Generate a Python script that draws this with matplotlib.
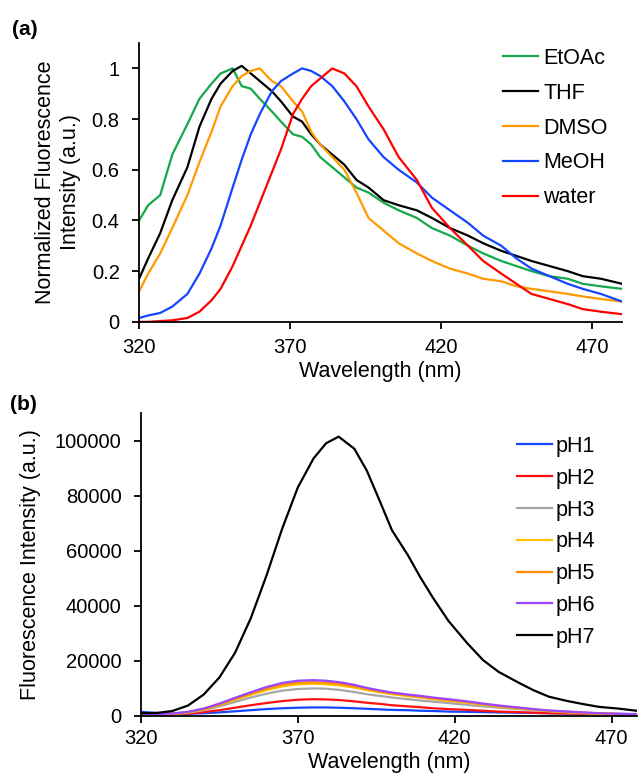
import matplotlib
matplotlib.use('Agg')
import matplotlib.pyplot as plt

plt.rcParams['font.family'] = ['Liberation Sans', 'DejaVu Sans']

# (a) normalized spectra in different solvents
wl_a = [320, 323, 327, 331, 336, 340, 344, 347, 351, 354, 357, 360, 364, 367, 371, 374,
        377, 380, 384, 388, 392, 396, 401, 406, 412, 417, 423, 429, 434, 440, 445, 450,
        456, 462, 467, 473, 480]
etoac = [0.40, 0.46, 0.50, 0.66, 0.78, 0.88, 0.94, 0.98, 1.00, 0.93, 0.92, 0.88, 0.83, 0.79,
         0.74, 0.73, 0.70, 0.65, 0.61, 0.57, 0.53, 0.51, 0.47, 0.44, 0.41, 0.37, 0.34, 0.30,
         0.27, 0.24, 0.22, 0.20, 0.18, 0.17, 0.15, 0.14, 0.13]
thf = [0.17, 0.25, 0.35, 0.48, 0.61, 0.77, 0.88, 0.94, 0.99, 1.01, 0.98, 0.95, 0.91, 0.87,
       0.81, 0.79, 0.74, 0.70, 0.66, 0.62, 0.56, 0.53, 0.48, 0.46, 0.44, 0.41, 0.37, 0.34,
       0.31, 0.28, 0.26, 0.24, 0.22, 0.20, 0.18, 0.17, 0.15]
dmso = [0.12, 0.19, 0.27, 0.37, 0.50, 0.63, 0.75, 0.85, 0.93, 0.97, 0.99, 1.00, 0.95, 0.93,
        0.87, 0.83, 0.75, 0.70, 0.65, 0.60, 0.51, 0.41, 0.36, 0.31, 0.27, 0.24, 0.21, 0.19,
        0.17, 0.16, 0.14, 0.13, 0.12, 0.11, 0.10, 0.09, 0.08]
meoh = [0.015, 0.025, 0.035, 0.06, 0.11, 0.19, 0.29, 0.38, 0.53, 0.64, 0.74, 0.82, 0.91, 0.95,
        0.98, 1.00, 0.99, 0.97, 0.93, 0.87, 0.80, 0.72, 0.65, 0.60, 0.55, 0.49, 0.44, 0.39,
        0.34, 0.30, 0.25, 0.21, 0.18, 0.15, 0.13, 0.11, 0.08]
water = [0.0, 0.0, 0.003, 0.006, 0.015, 0.04, 0.085, 0.13, 0.22, 0.30, 0.38, 0.47, 0.59, 0.68,
         0.82, 0.88, 0.93, 0.96, 1.00, 0.98, 0.93, 0.85, 0.76, 0.65, 0.56, 0.45, 0.37, 0.30,
         0.24, 0.19, 0.15, 0.11, 0.09, 0.07, 0.05, 0.04, 0.03]
solvents = ['EtOAc', 'THF', 'DMSO', 'MeOH', 'water']
solvent_colors = ['#13a84a', 'black', '#ff9a00', '#1446ff', '#ff0000']

# (b) spectra at different pH
wl_b = [320, 325, 330, 335, 340, 345, 350, 355, 360, 365, 370, 375, 379, 383, 388, 392, 396,
        400, 405, 409, 413, 418, 424, 429, 434, 440, 445, 450, 456, 461, 466, 472, 478]
ph1 = [1500, 1100, 800, 800, 1000, 1300, 1700, 2100, 2500, 2800, 3000, 3100, 3100, 3000, 2800,
       2600, 2400, 2200, 2100, 1900, 1800, 1600, 1500, 1400, 1300, 1200, 1100, 1000, 900, 850,
       800, 750, 700]
ph2 = [900, 700, 700, 900, 1400, 2100, 3000, 3900, 4700, 5400, 5900, 6100, 6000, 5800, 5300,
       4800, 4400, 3900, 3500, 3200, 2800, 2500, 2200, 1900, 1600, 1400, 1200, 1000, 900, 800,
       700, 600, 500]
ph3 = [800, 700, 750, 1200, 2100, 3500, 5100, 6700, 8100, 9200, 9800, 10000, 9900, 9500, 8700,
       7900, 7300, 6700, 6100, 5600, 5200, 4700, 4000, 3500, 3000, 2500, 2100, 1700, 1300, 1000,
       800, 650, 500]
ph4 = [800, 700, 800, 1300, 2400, 4000, 5900, 7700, 9400, 10700, 11500, 11700, 11500, 11100,
       10300, 9400, 8600, 7900, 7200, 6700, 6100, 5500, 4800, 4100, 3400, 2800, 2300, 1800, 1400,
       1100, 900, 700, 500]
ph5 = [800, 700, 850, 1400, 2500, 4200, 6200, 8100, 9900, 11300, 12100, 12300, 12100, 11700,
       10800, 9800, 8900, 8200, 7500, 7000, 6400, 5800, 5000, 4300, 3600, 3000, 2400, 1900, 1500,
       1200, 950, 750, 550]
ph6 = [800, 700, 900, 1500, 2700, 4500, 6600, 8600, 10500, 12000, 12800, 13000, 12800, 12300,
       11300, 10200, 9300, 8500, 7800, 7300, 6700, 6100, 5300, 4500, 3800, 3100, 2500, 2000, 1600,
       1300, 1000, 800, 600]
ph7 = [1000, 1100, 1800, 3800, 7800, 14000, 23000, 35500, 51000, 68000, 83000, 93500, 99000,
       101400, 97000, 89000, 78300, 67400, 58500, 50400, 43000, 34500, 26400, 20300, 16000,
       12300, 9400, 7000, 5400, 4300, 3300, 2700, 1900]
ph_labels = ['pH1', 'pH2', 'pH3', 'pH4', 'pH5', 'pH6', 'pH7']
ph_colors = ['#1446ff', '#ff1010', '#a6a6a6', '#ffc000', '#ff8c00', '#9b45ff', 'black']

tick_fs = 14.5
label_fs = 15.5
leg_fs = 15.5

fig = plt.figure(figsize=(6.38, 7.83), dpi=100)
ax1 = fig.add_axes([0.218, 0.589, 0.757, 0.356])
ax2 = fig.add_axes([0.221, 0.0856, 0.777, 0.387])

for ys, lab, c in zip([etoac, thf, dmso, meoh, water], solvents, solvent_colors):
    ax1.plot(wl_a, ys, color=c, lw=1.6, label=lab)
ax1.set_xlim(320, 480)
ax1.set_ylim(0, 1.1)
ax1.set_xticks([320, 370, 420, 470])
ax1.set_yticks([0, 0.2, 0.4, 0.6, 0.8, 1])
ax1.set_yticklabels(['0', '0.2', '0.4', '0.6', '0.8', '1'])
ax1.set_xlabel('Wavelength (nm)', fontsize=label_fs, labelpad=3)
ax1.set_ylabel('Normalized Fluorescence\nIntensity (a.u.)', fontsize=label_fs, labelpad=8,
               linespacing=1.25)
ax1.tick_params(axis='x', pad=6.5)
ax1.legend(loc='upper left', bbox_to_anchor=(503 / 638, 1 - 48 / 783),
           bbox_transform=fig.transFigure, frameon=False, fontsize=leg_fs,
           borderpad=0, borderaxespad=0, handlelength=1.63, handletextpad=0.23,
           labelspacing=0.64)

for ys, lab, c in zip([ph1, ph2, ph3, ph4, ph5, ph6, ph7], ph_labels, ph_colors):
    ax2.plot(wl_b, ys, color=c, lw=1.6, label=lab)
ax2.set_xlim(320, 478)
ax2.set_ylim(0, 110000)
ax2.set_xticks([320, 370, 420, 470])
ax2.set_yticks([0, 20000, 40000, 60000, 80000, 100000])
ax2.set_xlabel('Wavelength (nm)', fontsize=label_fs, labelpad=3)
ax2.set_ylabel('Fluorescence Intensity (a.u.)', fontsize=label_fs, labelpad=10)
ax2.tick_params(axis='x', pad=4.5)
ax2.legend(loc='upper left', bbox_to_anchor=(517 / 638, 1 - 436 / 783),
           bbox_transform=fig.transFigure, frameon=False, fontsize=leg_fs,
           borderpad=0, borderaxespad=0, handlelength=1.63, handletextpad=0.14,
           labelspacing=0.5)

for ax in (ax1, ax2):
    ax.spines['top'].set_visible(False)
    ax.spines['right'].set_visible(False)
    ax.spines['left'].set_linewidth(1.3)
    ax.spines['bottom'].set_linewidth(1.3)
    ax.tick_params(labelsize=tick_fs, width=1.3, length=5, direction='out')
    ax.tick_params(axis='y', pad=9)

fig.text(0.019, 0.962, '(a)', fontsize=15, fontweight='bold', va='center')
fig.text(0.016, 0.484, '(b)', fontsize=15, fontweight='bold', va='center')

plt.savefig('out.png', dpi=100)
